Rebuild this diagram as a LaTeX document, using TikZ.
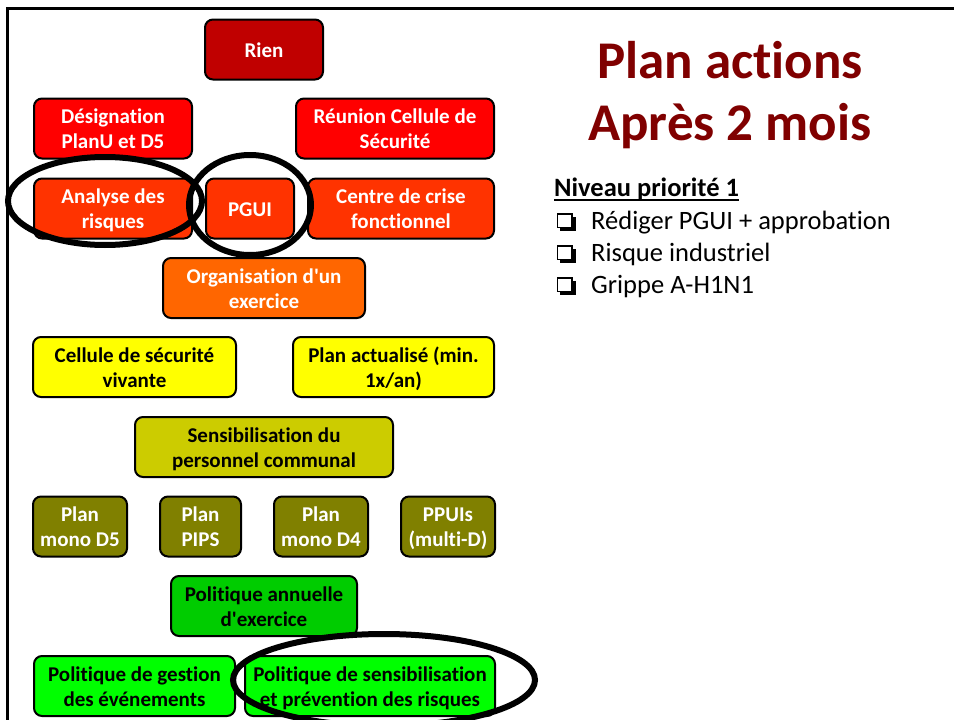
\documentclass[tikz,border=0pt]{standalone}
\usepackage{fontspec}
\usetikzlibrary{calc}
\setmainfont{Carlito}[Ligatures=NoCommon]
\newfontfamily\aposfont{Carlito}
\definecolor{cRien}{RGB}{192,0,0}
\definecolor{cRed}{RGB}{255,0,0}
\definecolor{cOrRed}{RGB}{255,51,0}
\definecolor{cOrange}{RGB}{255,102,0}
\definecolor{cYellow}{RGB}{255,255,0}
\definecolor{cDkYellow}{RGB}{204,204,0}
\definecolor{cOlive}{RGB}{128,128,0}
\definecolor{cGreen}{RGB}{0,204,0}
\definecolor{cLime}{RGB}{0,255,0}
\definecolor{cTitle}{RGB}{128,0,0}
\newcommand\apos{{\aposfont'}}
\newcommand\Ln[1]{\vrule height 20pt depth 5pt width 0pt\relax #1}
\tikzset{
  stepbox/.style={draw=black, line width=2, rounded corners=8, minimum height=60,
    inner sep=0, align=center,
    font=\bfseries\fontsize{21}{25}\selectfont},
  wtext/.style={text=white},
  btext/.style={text=black},
  ring/.style={draw=black, line width=6},
  frameline/.style={draw=black, line width=3},
  chk/.style={draw=black, line width=1.8, fill=white},
}
\begin{document}
\begin{tikzpicture}[x=1pt,y=-1pt]
\useasboundingbox (0,0) rectangle (954,720);
\fill[white] (0,0) rectangle (954,720);
\draw[frameline] (7,730) -- (7,8) -- (960,8);

% boxes
\node[stepbox, fill=cRien, wtext, minimum width=118] (rien) at (264,49.5) {\Ln{Rien}};
\node[stepbox, fill=cRed, wtext, minimum width=158] (desig) at (113,128.5) {\Ln{Désignation}\\\Ln{PlanU et D5}};
\node[stepbox, fill=cRed, wtext, minimum width=198] (reunion) at (395,128.5) {\Ln{Réunion Cellule de}\\\Ln{Sécurité}};
\node[stepbox, fill=cOrRed, wtext, minimum width=158] (analyse) at (113,208.5) {\Ln{Analyse des}\\\Ln{risques}};
\node[stepbox, fill=cOrRed, wtext, minimum width=88] (pgui) at (250,208.5) {\Ln{PGUI}};
\node[stepbox, fill=cOrRed, wtext, minimum width=186] (centre) at (401,208.5) {\Ln{Centre de crise}\\\Ln{fonctionnel}};
\node[stepbox, fill=cOrange, wtext, minimum width=202] (orga) at (264,288) {\Ln{Organisation d\apos un}\\\Ln{exercice}};
\node[stepbox, fill=cYellow, btext, minimum width=203] (cellule) at (134.5,367) {\Ln{Cellule de sécurité}\\\Ln{vivante}};
\node[stepbox, fill=cYellow, btext, minimum width=201] (planact) at (393.5,367) {\Ln{Plan actualisé (min.}\\\Ln{1x/an)}};
\node[stepbox, fill=cDkYellow, btext, minimum width=258] (sensib) at (264,447) {\Ln{Sensibilisation du}\\\Ln{personnel communal}};
\node[stepbox, fill=cOlive, wtext, minimum width=94] (pd5) at (80,526.5) {\Ln{Plan}\\\Ln{mono D5}};
\node[stepbox, fill=cOlive, wtext, minimum width=81] (pips) at (200.5,526.5) {\Ln{Plan}\\\Ln{PIPS}};
\node[stepbox, fill=cOlive, wtext, minimum width=94] (pd4) at (321,526.5) {\Ln{Plan}\\\Ln{mono D4}};
\node[stepbox, fill=cOlive, wtext, minimum width=94] (ppui) at (448,526.5) {\Ln{PPUIs}\\\Ln{(multi-D)}};
\node[stepbox, fill=cGreen, btext, minimum width=186] (polann) at (264,606) {\Ln{Politique annuelle}\\\Ln{d\apos exercice}};
\node[stepbox, fill=cLime, btext, minimum width=201] (polgest) at (134.5,686) {\Ln{Politique de gestion}\\\Ln{des événements}};
\node[stepbox, fill=cLime, btext, minimum width=250] (polsens) at (370,686) {\Ln{Politique de sensibilisation}\\\Ln{et prévention des risques}};

% highlight rings
\draw[ring] (105,201) ellipse [x radius=97, y radius=44];
\draw[ring] (250,205) ellipse [x radius=61, y radius=50];
\draw[ring] (384,680) ellipse [x radius=151, y radius=46];

% title
\node[anchor=base, text=cTitle, font=\bfseries\fontsize{53}{62}\selectfont, inner sep=0] (t1) at (730,78) {Plan actions};
\node[anchor=base, text=cTitle, font=\bfseries\fontsize{53}{62}\selectfont, inner sep=0] (t2) at (730,140) {Après 2 mois};

% priority list
\node[anchor=base west, font=\bfseries\fontsize{26.5}{32}\selectfont, inner sep=0] (niv) at (554,196) {Niveau priorité 1};
\draw[line width=2] ($(niv.base west)+(0,4)$) -- ($(niv.base east)+(0,4)$);
\node[anchor=base west, font=\fontsize{26.5}{32}\selectfont, inner sep=0] (i1) at (591,229) {Rédiger PGUI + approbation};
\node[anchor=base west, font=\fontsize{26.5}{32}\selectfont, inner sep=0] (i2) at (591,261) {Risque industriel};
\node[anchor=base west, font=\fontsize{26.5}{32}\selectfont, inner sep=0] (i3) at (591,293) {Grippe A-H1N1};
\foreach \yb in {229,261,293}{
  \fill[black] (560,\yb-12) rectangle (575.5,\yb+1.5);
  \draw[chk] (557.5,\yb-15) rectangle (572,\yb-1.5);
}
\end{tikzpicture}
\end{document}
